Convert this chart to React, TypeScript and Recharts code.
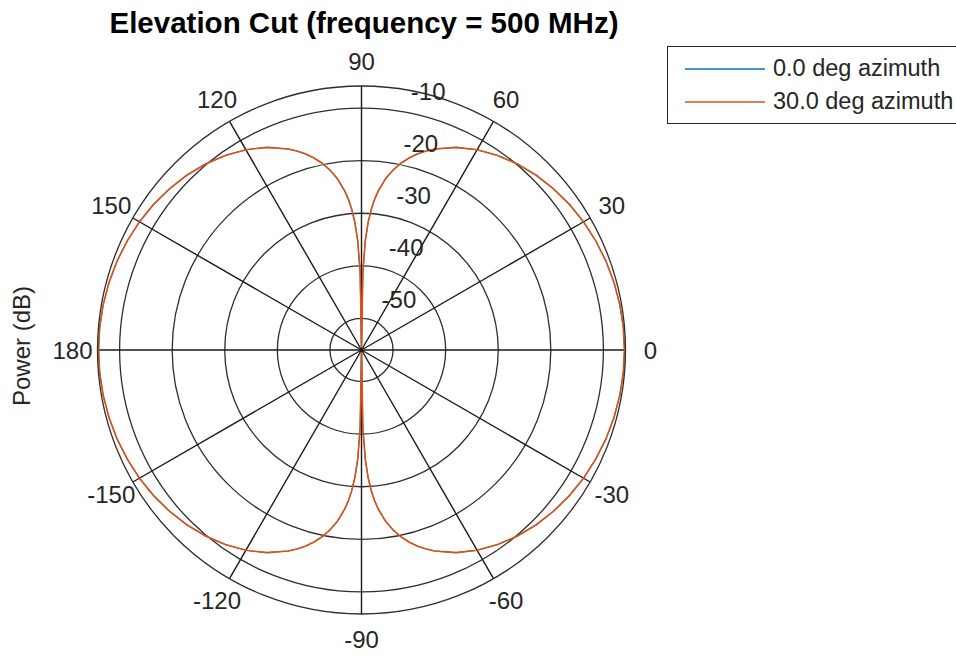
import { RadarChart, Radar, PolarGrid, PolarAngleAxis, PolarRadiusAxis, Legend } from "recharts"

// elevation angle (deg) of each sample, read around the cut
const elevation = [
  -180, -175, -170, -165, -160, -155, -150, -145, -140, -135, -130, -125, -120, -115, -110,
  -108, -106, -104, -102, -100, -98, -96, -95, -94, -93, -92, -91, -90,
  -89, -88, -87, -86, -85, -84, -82, -80, -78, -76, -74, -72, -70,
  -65, -60, -55, -50, -45, -40, -35, -30, -25, -20, -15, -10, -5,
  0, 5, 10, 15, 20, 25, 30, 35, 40, 45, 50, 55, 60, 65, 70,
  72, 74, 76, 78, 80, 82, 84, 85, 86, 87, 88, 89, 90,
  91, 92, 93, 94, 95, 96, 98, 100, 102, 104, 106, 108, 110,
  115, 120, 125, 130, 135, 140, 145, 150, 155, 160, 165, 170, 175, 180,
]

// power (dB) at 0.0 deg azimuth
const power0 = [
  -6.0, -6.03, -6.13, -6.3, -6.54, -6.86, -7.25, -7.73, -8.32, -9.01, -9.84, -10.83, -12.02, -13.48, -15.32,
  -16.2, -17.19, -18.33, -19.64, -21.21, -23.13, -25.62, -27.19, -29.13, -31.63, -35.15, -41.16, -55.6,
  -41.16, -35.15, -31.63, -29.13, -27.19, -25.62, -23.13, -21.21, -19.64, -18.33, -17.19, -16.2, -15.32,
  -13.48, -12.02, -10.83, -9.84, -9.01, -8.32, -7.73, -7.25, -6.86, -6.54, -6.3, -6.13, -6.03,
  -6.0, -6.03, -6.13, -6.3, -6.54, -6.86, -7.25, -7.73, -8.32, -9.01, -9.84, -10.83, -12.02, -13.48, -15.32,
  -16.2, -17.19, -18.33, -19.64, -21.21, -23.13, -25.62, -27.19, -29.13, -31.63, -35.15, -41.16, -55.6,
  -41.16, -35.15, -31.63, -29.13, -27.19, -25.62, -23.13, -21.21, -19.64, -18.33, -17.19, -16.2, -15.32,
  -13.48, -12.02, -10.83, -9.84, -9.01, -8.32, -7.73, -7.25, -6.86, -6.54, -6.3, -6.13, -6.03, -6.0,
]

// power (dB) at 30.0 deg azimuth - lies exactly on top of the 0 deg cut
const power30 = [...power0]

const angleTicks = [0, 30, 60, 90, 120, 150, 180, -150, -120, -90, -60, -30]
const powerTicks = [-50, -40, -30, -20, -10]
const powerDomain = [-55.6, -5.8]

const seriesNames = ["0.0 deg azimuth", "30.0 deg azimuth"]
const seriesColors = ["#0072BD", "#D95319"]

const data = elevation.map((el, i) => ({ el, p0: power0[i], p30: power30[i] }))

const FONT = '"Liberation Sans", Arial, Helvetica, sans-serif'
const TEXT = "#262626"

function AngleTick(props: any) {
  const { x, y, payload } = props
  return (
    <text x={x} y={y} textAnchor="middle" dominantBaseline="central" fontSize={24} fontFamily={FONT} fill={TEXT}>
      {payload.value}
    </text>
  )
}

function RadiusTick(props: any) {
  const { x, y, payload } = props
  return (
    <text x={x + 33} y={y - 19} textAnchor="middle" dominantBaseline="central" fontSize={24} fontFamily={FONT} fill={TEXT}>
      {payload.value}
    </text>
  )
}

function LegendBox(props: any) {
  const items = props.payload || []
  return (
    <div
      style={{
        position: "relative",
        width: 330,
        height: 78,
        border: "1.3px solid #262626",
        background: "#fff",
        boxSizing: "border-box",
        fontFamily: FONT,
        fontSize: 23.5,
        color: TEXT,
      }}
    >
      {items.map((entry: any, i: number) => {
        const idx = seriesNames.indexOf(entry.value)
        const color = idx >= 0 ? seriesColors[idx] : entry.color
        return (
          <div key={entry.value} style={{ position: "absolute", left: 0, top: 5 + i * 33.4, height: 33, display: "flex", alignItems: "center" }}>
            <svg width={80} height={4} style={{ marginLeft: 17, display: "block" }}>
              <line x1={0} y1={2} x2={80} y2={2} stroke={color} strokeWidth={1.6} />
            </svg>
            <span style={{ marginLeft: 8, whiteSpace: "nowrap", lineHeight: "33px" }}>{entry.value}</span>
          </div>
        )
      })}
    </div>
  )
}

export default function App() {
  return (
    <div style={{ position: "absolute", left: 0, top: 0, width: 956, height: 656, overflow: "hidden", background: "#fff" }}>
      <div
        style={{
          position: "absolute",
          left: 0,
          width: 728,
          top: 6,
          textAlign: "center",
          fontFamily: FONT,
          fontWeight: "bold",
          fontSize: 29.5,
          color: "#000",
          whiteSpace: "nowrap",
        }}
      >
        Elevation Cut (frequency = 500 MHz)
      </div>
      <div
        style={{
          position: "absolute",
          left: 22,
          top: 346,
          transform: "translate(-50%, -50%) rotate(-90deg)",
          fontFamily: FONT,
          fontSize: 24,
          color: TEXT,
          whiteSpace: "nowrap",
        }}
      >
        Power (dB)
      </div>
      <RadarChart
        width={956}
        height={656}
        data={data}
        cx={361.5}
        cy={350}
        outerRadius={264}
        startAngle={-180}
        endAngle={180}
        margin={{ top: 0, right: 0, bottom: 0, left: 0 }}
        style={{ position: "absolute", left: 0, top: 0 }}
      >
        <PolarGrid gridType="circle" radialLines={false} stroke="#2e2e2e" strokeWidth={1.3} />
        <PolarGrid gridType="circle" polarRadius={[]} stroke="#1a1a1a" strokeWidth={1.4} />
        <PolarAngleAxis
          dataKey="el"
          type="number"
          domain={[-180, 180]}
          allowDataOverflow
          ticks={angleTicks}
          tickLine={false}
          tickSize={25}
          axisLineType="circle"
          axisLine={{ stroke: "#2e2e2e", strokeWidth: 1.3 }}
          tick={<AngleTick />}
        />
        <PolarRadiusAxis
          type="number"
          angle={82}
          domain={powerDomain}
          allowDataOverflow
          ticks={powerTicks}
          axisLine={false}
          tick={<RadiusTick />}
        />
        <Radar
          name={seriesNames[0]}
          dataKey="p0"
          stroke={seriesColors[0]}
          strokeWidth={1.1}
          fill="none"
          fillOpacity={0}
          dot={false}
          isAnimationActive={false}
        />
        <Radar
          name={seriesNames[1]}
          dataKey="p30"
          stroke={seriesColors[1]}
          strokeWidth={1.6}
          fill="none"
          fillOpacity={0}
          dot={false}
          isAnimationActive={false}
        />
        <Legend content={<LegendBox />} wrapperStyle={{ left: 667, top: 46, width: 330, height: 78, bottom: "auto" }} />
      </RadarChart>
    </div>
  )
}
